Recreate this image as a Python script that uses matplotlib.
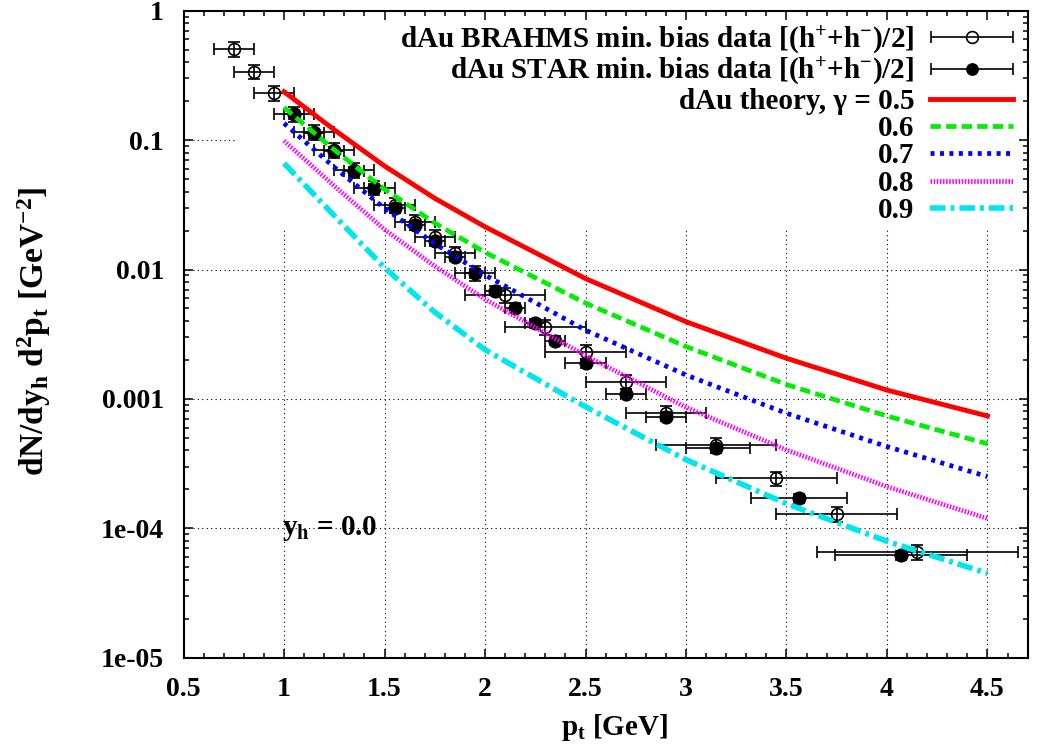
import numpy as np
import matplotlib
matplotlib.use("Agg")
import matplotlib.pyplot as plt
import matplotlib.ticker as mticker
from matplotlib.patches import Rectangle
from matplotlib.container import ErrorbarContainer
from matplotlib.legend_handler import HandlerErrorbar

plt.rcParams["font.family"] = ["Liberation Serif", "DejaVu Serif"]
plt.rcParams["font.weight"] = "bold"
plt.rcParams["mathtext.fontset"] = "custom"
plt.rcParams["mathtext.rm"] = "Liberation Serif:bold"
plt.rcParams["mathtext.it"] = "Liberation Serif:bold"
plt.rcParams["mathtext.bf"] = "Liberation Serif:bold"
plt.rcParams["mathtext.default"] = "rm"

# BRAHMS d+Au min. bias, (h+ + h-)/2
brahms_pt = [0.75, 0.85, 0.95, 1.05, 1.15, 1.25, 1.35, 1.45, 1.55, 1.65, 1.75,
             1.85, 1.95, 2.1, 2.3, 2.5, 2.7, 2.9, 3.15, 3.45, 3.75, 4.15]
brahms_val = [0.503, 0.338, 0.232, 0.160, 0.115, 0.084, 0.059, 0.043, 0.0315,
              0.0234, 0.0179, 0.0133, 0.0094, 0.00635, 0.00361, 0.00232,
              0.00136, 0.000782, 0.00044, 0.000243, 0.000129, 0.0000659]
brahms_dpt = [0.1, 0.1, 0.1, 0.1, 0.1, 0.1, 0.1, 0.1, 0.1, 0.1, 0.1,
              0.1, 0.1, 0.2, 0.2, 0.2, 0.2, 0.2, 0.3, 0.3, 0.3, 0.5]
brahms_rel_err = 0.13

# STAR d+Au min. bias, (h+ + h-)/2
star_pt = [1.05, 1.15, 1.25, 1.35, 1.45, 1.55, 1.65, 1.75, 1.85, 1.95, 2.05,
           2.15, 2.25, 2.35, 2.5, 2.7, 2.9, 3.15, 3.56, 4.07]
star_val = [0.158, 0.113, 0.0824, 0.0577, 0.0424, 0.0297, 0.0221, 0.0166,
            0.01256, 0.00935, 0.00686, 0.00507, 0.00384, 0.00282, 0.00188,
            0.0011, 0.00073, 0.000415, 0.000171, 0.0000622]
star_dpt_lo = [0.05] * 14 + [0.1, 0.1, 0.1, 0.15, 0.235, 0.33]
star_dpt_hi = [0.05] * 14 + [0.1, 0.1, 0.1, 0.17, 0.24, 0.33]
star_rel_err = 0.08

# theory curves for gamma = 0.5 ... 0.9
theory_pt = [1.0, 1.25, 1.5, 1.75, 2.0, 2.5, 3.0, 3.5, 4.0, 4.5]
theory_g05 = [0.2366, 0.1202, 0.0631, 0.0355, 0.0214, 0.00851, 0.00395,
              0.00206, 0.00117, 0.000738]
theory_g06 = [0.1786, 0.0841, 0.0417, 0.0229, 0.01358, 0.0055, 0.00254,
              0.00129, 0.000738, 0.000450]
theory_g07 = [0.1349, 0.0617, 0.0297, 0.01585, 0.00906, 0.0034, 0.00153,
              0.000774, 0.000428, 0.000251]
theory_g08 = [0.0989, 0.0442, 0.0204, 0.0106, 0.00589, 0.00216, 0.000861,
              0.000403, 0.00021, 0.000119]
theory_g09 = [0.0662, 0.0261, 0.01033, 0.00468, 0.0024, 0.00087, 0.000339,
              0.000155, 0.0000794, 0.0000449]
gamma_labels = ["dAu theory, \u03b3 = 0.5", "0.6", "0.7", "0.8", "0.9"]

xticks = [0.5, 1, 1.5, 2, 2.5, 3, 3.5, 4, 4.5]
yticks = [1e-5, 1e-4, 1e-3, 1e-2, 1e-1, 1]
ytick_labels = ["1e-05", "1e-04", "0.001", "0.01", "0.1", "1"]

fig = plt.figure(figsize=(10.41, 7.44), dpi=100)
ax = fig.add_axes([0.1763, 0.116, 0.8109, 0.8696])
ax.set_yscale("log")
ax.set_xlim(0.5, 4.7)
ax.set_ylim(1e-5, 1)

# dotted grid, blanked behind the key
for xv in xticks[1:]:
    ax.axvline(xv, color="k", lw=0.8, ls=(0, (1, 3)), zorder=0.6)
for yv in yticks[1:-1]:
    ax.axhline(yv, color="k", lw=0.8, ls=(0, (1, 3)), zorder=0.6)
ax.add_patch(Rectangle((0.0646, 0.664), 0.926, 0.336, transform=ax.transAxes,
                       facecolor="white", edgecolor="none", zorder=0.8))

bv = np.array(brahms_val)
sv = np.array(star_val)
eb_kw = dict(ls="none", color="k", ecolor="k", elinewidth=1.2, capsize=4.5,
             capthick=1.2, markeredgewidth=1.2, zorder=3)
ax.errorbar(brahms_pt, bv, xerr=brahms_dpt,
            yerr=[bv * brahms_rel_err, bv * brahms_rel_err],
            marker="o", markerfacecolor="none", markersize=8.5, **eb_kw)
ax.errorbar(star_pt, sv, xerr=[star_dpt_lo, star_dpt_hi],
            yerr=[sv * star_rel_err, sv * star_rel_err],
            marker="o", markerfacecolor="k", markersize=9, **eb_kw)

# key entries for the data sets (horizontal bars only)
h_brahms = ax.errorbar([np.nan], [np.nan], xerr=[1], marker="o",
                       markerfacecolor="none", markersize=8.5, **eb_kw)
h_star = ax.errorbar([np.nan], [np.nan], xerr=[1], marker="o",
                     markerfacecolor="k", markersize=8, **eb_kw)

l05, = ax.plot(theory_pt, theory_g05, color="#ff0000", lw=3.5, ls="-", zorder=4)
l06, = ax.plot(theory_pt, theory_g06, color="#00ee00", lw=3.4,
               ls=(0, (2.2, 1.1)), zorder=4)
l07, = ax.plot(theory_pt, theory_g07, color="#0000ff", lw=3.4,
               ls=(0, (0.85, 1.15)), zorder=4)
l08, = ax.plot(theory_pt, theory_g08, color="#ff00ff", lw=3.4,
               ls=(0, (0.33, 0.33)), zorder=4)
l09, = ax.plot(theory_pt, theory_g09, color="#00e5ee", lw=4.0,
               ls=(0, (2.8, 0.9, 0.7, 0.9)), zorder=4)

handles = [h_brahms, h_star, l05, l06, l07, l08, l09]
labels = ["dAu BRAHMS min. bias data [(h$^{+}$+h$^{-}$)/2]",
          "dAu STAR min. bias data [(h$^{+}$+h$^{-}$)/2]"] + gamma_labels
leg = ax.legend(handles, labels, loc="upper right", bbox_to_anchor=(0.9826, 0.9795),
                borderaxespad=0, borderpad=0, frameon=False, fontsize=21,
                markerfirst=False, handlelength=2.83, handletextpad=0.55,
                labelspacing=0.012, numpoints=1,
                handler_map={ErrorbarContainer: HandlerErrorbar(xerr_size=1.4)})

ax.text(0.99, 1e-4, "y$_{h}$ = 0.0", fontsize=21, ha="left", va="center")

ax.set_xticks(xticks)
ax.set_xticklabels(["0.5", "1", "1.5", "2", "2.5", "3", "3.5", "4", "4.5"])
ax.xaxis.set_minor_locator(mticker.MultipleLocator(0.1))
ax.set_yticks(yticks)
ax.set_yticklabels(ytick_labels)
ax.yaxis.set_minor_locator(mticker.LogLocator(base=10, subs=np.arange(2, 10)))
ax.yaxis.set_minor_formatter(mticker.NullFormatter())
ax.tick_params(which="both", direction="in", top=True, right=True,
               labelsize=20, width=1.1, pad=14)
ax.tick_params(which="major", length=6.5)
ax.tick_params(which="minor", length=3.4)
for sp in ax.spines.values():
    sp.set_linewidth(1.5)

fig.text(0.0327, 0.555, "dN/dy$_{h}$ d$^{2}$p$_{t}$ [GeV$^{-2}$]", fontsize=24,
         rotation=90, ha="center", va="center")
fig.text(0.59, 0.0121, "p$_{t}$ [GeV]", fontsize=21, ha="center", va="baseline")

fig.savefig("out.png", dpi=100)
